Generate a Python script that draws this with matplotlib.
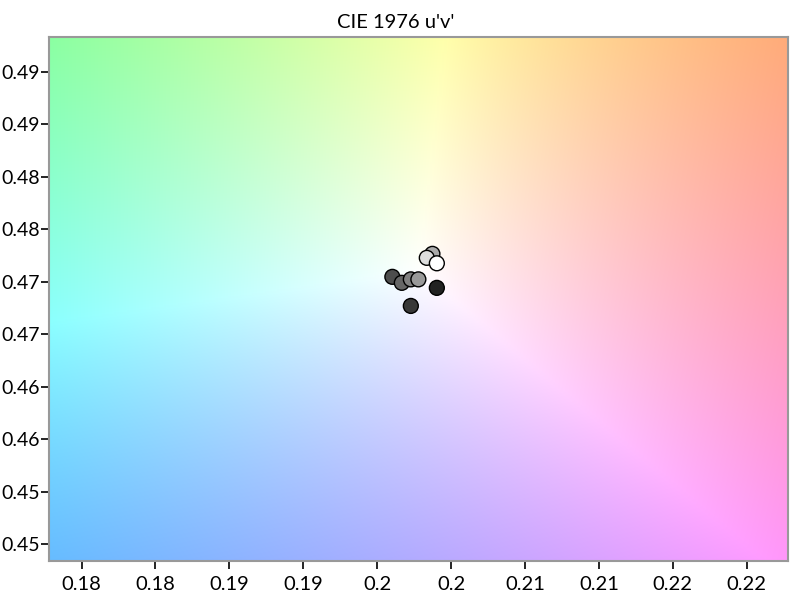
import numpy as np
import matplotlib
matplotlib.use("Agg")
import matplotlib.pyplot as plt

plt.rcParams['font.family'] = ['Lato', 'DejaVu Sans']

# measured chromaticities (u', v') and marker grey levels
u_vals = [0.19853, 0.19917, 0.19978, 0.20029, 0.20154, 0.19978, 0.20124, 0.20086, 0.20154]
v_vals = [0.47296, 0.47239, 0.47272, 0.47272, 0.47191, 0.47019, 0.47515, 0.47477, 0.47425]
fills = ['#4d4d4d', '#666666', '#808080', '#999999', '#222222', '#383838', '#aaaaaa', '#dddddd', '#ffffff']

x_ticks = [0.1775, 0.1825, 0.1875, 0.1925, 0.1975, 0.2025, 0.2075, 0.2125, 0.2175, 0.2225]
y_ticks = [0.4475, 0.4525, 0.4575, 0.4625, 0.4675, 0.4725, 0.4775, 0.4825, 0.4875, 0.4925]
x_lim = (0.1753, 0.2253)
y_lim = (0.4459, 0.4958)
white_uv = (0.2004, 0.4735)


def uv_to_rgb(uu, vv):
    # u'v' -> xy -> XYZ (Y=1) -> linear sRGB
    d = 6 * uu - 16 * vv + 12
    x = 9 * uu / d
    y = 4 * vv / d
    X = x / y
    Z = (1 - x - y) / y
    Y = np.ones_like(X)
    M = np.array([[3.2406, -1.5372, -0.4986],
                  [-0.9689, 1.8758, 0.0415],
                  [0.0557, -0.2040, 1.0570]])
    return np.einsum('ij,j...->...i', M, np.stack([X, Y, Z]))


def uv_background(xlim, ylim, n=300):
    uu, vv = np.meshgrid(np.linspace(*xlim, n), np.linspace(*ylim, n))
    rgb = uv_to_rgb(uu, vv) / uv_to_rgb(np.array(white_uv[0]), np.array(white_uv[1]))
    rgb = rgb / rgb.max(axis=2, keepdims=True)
    return np.clip(rgb, 0, 1)


fig = plt.figure(figsize=(7.91, 6.03), dpi=100)
ax = fig.add_axes([0.062, 0.0697, 0.9342, 0.8689])

ax.imshow(uv_background(x_lim, y_lim), extent=[*x_lim, *y_lim], origin='lower',
          aspect='auto', interpolation='bilinear', zorder=0)

ax.scatter(u_vals, v_vals, s=115, c=fills, edgecolors='black', linewidths=1.0, zorder=3)

ax.set_xlim(*x_lim)
ax.set_ylim(*y_lim)
ax.set_xticks(x_ticks)
ax.set_yticks(y_ticks)
ax.set_xticklabels([f"{round(t, 2):g}" for t in x_ticks])
ax.set_yticklabels([f"{round(t, 2):g}" for t in y_ticks])
ax.tick_params(axis='x', length=5.5, width=1.2, pad=5, labelsize=14.5)
ax.tick_params(axis='y', length=6, width=1.2, pad=0.3, labelsize=14)

for s in ax.spines.values():
    s.set_color('#999999')
    s.set_linewidth(1.5)

fig.text(0.5, 0.963, "CIE 1976 u'v'", ha='center', va='center', fontsize=14.5)

fig.savefig('out.png', dpi=100)
